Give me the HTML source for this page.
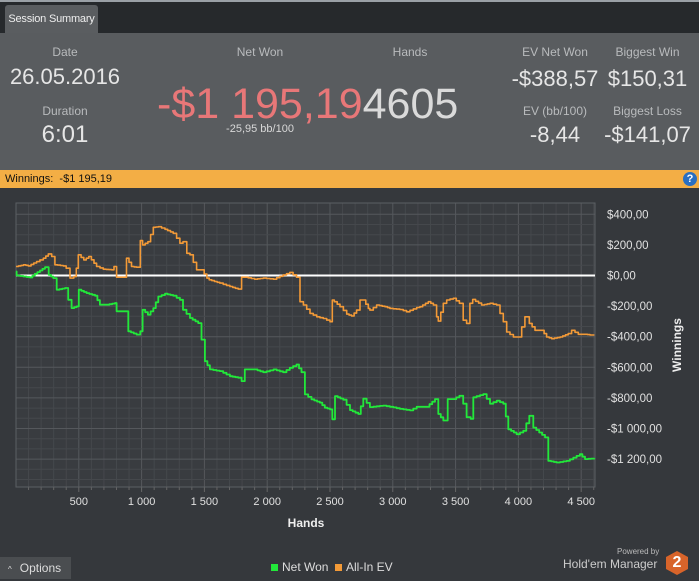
<!DOCTYPE html>
<html><head><meta charset="utf-8"><style>
body{margin:0;width:699px;height:580px;overflow:hidden;background:#35383c;font-family:"Liberation Sans",sans-serif;position:relative}
.abs{position:absolute}
.lbl{color:#b9bbbd;font-size:12px;text-align:center}
.val{color:#e6e6e6;font-size:22px;text-align:center}
</style></head><body>
<div class="abs" style="left:0;top:0;width:699px;height:33px;background:#26292c;border-top:2px solid #9aa0a6;box-sizing:border-box"></div>
<div class="abs" style="left:5px;top:5px;width:93px;height:28px;background:#5a5d60;border-radius:3px 3px 0 0;color:#eee;font-size:11px;line-height:28px;text-align:center;white-space:nowrap;letter-spacing:-0.2px">Session Summary</div>
<div class="abs" style="left:0;top:33px;width:699px;height:137px;background:#595c5f">
 <div class="abs lbl" style="left:20px;top:12px;width:90px">Date</div>
 <div class="abs val" style="left:0;top:31px;width:130px">26.05.2016</div>
 <div class="abs lbl" style="left:20px;top:71px;width:90px">Duration</div>
 <div class="abs val" style="left:20px;top:88px;width:90px;font-size:24px">6:01</div>
 <div class="abs lbl" style="left:215px;top:12px;width:90px">Net Won</div>
 <div class="abs" style="left:157px;top:46px;width:300px;font-size:43px;color:#e87778;line-height:50px;white-space:nowrap">-$1 195,19<span style="color:#dadada">4605</span></div>
 <div class="abs lbl" style="left:200px;top:90px;width:120px;font-size:11px;color:#d8d8d8">-25,95 bb/100</div>
 <div class="abs lbl" style="left:365px;top:12px;width:90px">Hands</div>
 <div class="abs lbl" style="left:510px;top:12px;width:90px">EV Net Won</div>
 <div class="abs val" style="left:505px;top:33px;width:100px">-$388,57</div>
 <div class="abs lbl" style="left:600px;top:12px;width:95px">Biggest Win</div>
 <div class="abs val" style="left:600px;top:33px;width:95px">$150,31</div>
 <div class="abs lbl" style="left:510px;top:71px;width:90px">EV (bb/100)</div>
 <div class="abs val" style="left:510px;top:89px;width:90px">-8,44</div>
 <div class="abs lbl" style="left:600px;top:71px;width:95px">Biggest Loss</div>
 <div class="abs val" style="left:600px;top:89px;width:95px">-$141,07</div>
</div>
<div class="abs" style="left:0;top:170px;width:699px;height:18px;background:#f3ae45;font-size:11px;line-height:18px;color:#111;padding-left:5px;box-sizing:border-box">Winnings: &nbsp;-$1 195,19</div>
<div class="abs" style="left:683px;top:172px;width:14px;height:14px;border-radius:7px;background:#2a6fc0;color:#fff;font-size:11px;font-weight:bold;text-align:center;line-height:14px">?</div>
<svg class="abs" style="left:0;top:0" width="699" height="580" id="chart"></svg>
<div class="abs" style="left:0;top:557px;width:71px;height:22px;background:#4a4d50;color:#ddd;font-size:12px;line-height:22px"><span style="font-size:8px;margin:0 8px 0 8px">^</span>Options</div>
<div class="abs" style="left:271px;top:560px;font-size:12px;color:#ddd"><span style="display:inline-block;width:7px;height:7px;background:#22e83a;margin-right:4px"></span>Net Won</div>
<div class="abs" style="left:335px;top:560px;font-size:12px;color:#ddd"><span style="display:inline-block;width:7px;height:7px;background:#f39a37;margin-right:4px"></span>All-In EV</div>
<div class="abs" style="left:617px;top:547px;font-size:8px;color:#bbb">Powered by</div>
<div class="abs" style="left:563px;top:557px;font-size:12px;color:#ccc">Hold'em Manager</div>
<div class="abs" style="left:666px;top:551px;width:22px;height:24px;background:#d8642a;clip-path:polygon(50% 0,100% 25%,100% 75%,50% 100%,0 75%,0 25%);color:#fff;font-weight:bold;font-size:16px;text-align:center;line-height:24px">2</div>
<script>
const hands=[0,5,111,150,191,231,260,297,324,390,416,443,483,500,562,629,668,721,788,801,867,894,960,990,1008,1050,1093,1133,1186,1252,1305,1330,1385,1451,1477,1504,1544,1623,1703,1769,1796,1822,1900,1968,2050,2127,2180,2233,2273,2300,2353,2419,2459,2500,2518,2540,2606,2659,2725,2765,2818,2924,3004,3057,3137,3190,3270,3336,3362,3402,3437,3482,3530,3561,3588,3620,3641,3721,3774,3827,3880,3920,3986,4039,4087,4119,4212,4238,4305,4384,4490,4530,4605];
const netWon=[26,0,-13,11,33,54,4,-17,-93,-82,-159,-213,-202,-93,-115,-132,-191,-191,-180,-234,-234,-365,-386,-365,-224,-256,-213,-137,-119,-132,-159,-224,-278,-311,-419,-560,-614,-625,-658,-668,-690,-614,-614,-632,-614,-632,-603,-582,-632,-777,-810,-831,-864,-875,-940,-788,-812,-880,-905,-805,-860,-850,-862,-872,-882,-858,-858,-808,-905,-948,-808,-808,-786,-838,-926,-937,-796,-775,-838,-818,-838,-1005,-1037,-1015,-917,-994,-1058,-1212,-1222,-1212,-1168,-1200,-1195];
const evHands=[0,60,98,164,217,257,284,310,377,400,430,460,480,496,540,580,642,695,761,780,801,867,880,920,960,990,1008,1050,1093,1133,1186,1252,1305,1330,1360,1385,1438,1477,1520,1538,1623,1703,1769,1796,1822,1900,1968,2050,2127,2180,2233,2261,2288,2341,2394,2447,2500,2518,2534,2580,2633,2672,2712,2739,2765,2805,2818,2871,2938,2977,3057,3110,3190,3216,3283,3323,3349,3362,3402,3429,3482,3530,3561,3588,3614,3636,3707,3774,3827,3880,3907,3960,4000,4052,4087,4132,4185,4225,4265,4331,4397,4424,4477,4530,4570,4605];
const allInEV=[59,70,63,91,113,141,124,70,63,48,-17,-7,48,135,102,124,59,41,37,59,-11,-11,113,59,54,228,200,221,315,319,302,276,211,221,145,135,37,37,-17,-28,-50,-72,-89,-11,-11,-24,-17,-24,4,20,-11,-171,-193,-248,-270,-281,-302,-160,-171,-204,-252,-265,-226,-160,-160,-215,-226,-193,-204,-215,-222,-237,-209,-204,-171,-193,-270,-298,-182,-160,-149,-182,-292,-313,-182,-156,-193,-182,-193,-302,-369,-402,-402,-270,-313,-358,-358,-402,-413,-402,-380,-358,-384,-384,-389];
const yTicks=[400,200,0,-200,-400,-600,-800,-1000,-1200];
const yTickLabels=["$400,00","$200,00","$0,00","-$200,00","-$400,00","-$600,00","-$800,00","-$1 000,00","-$1 200,00"];
const xTicks=[500,1000,1500,2000,2500,3000,3500,4000,4500];
const xTickLabels=["500","1 000","1 500","2 000","2 500","3 000","3 500","4 000","4 500"];
const svg=document.getElementById('chart');
const NS='http://www.w3.org/2000/svg';
const L=16,R=595,T=203,B=487;
const X=h=>L+h*(R-L)/4610;
const Y=v=>275.5-v*30.6/200;
function mk(tag,attrs){const e=document.createElementNS(NS,tag);for(const k in attrs)e.setAttribute(k,attrs[k]);svg.appendChild(e);return e;}
let bg=mk('rect',{x:L,y:T,width:R-L,height:B-T,fill:'#393c40'});


for(let h=100;h<4610;h+=100){const l=mk('line',{x1:X(h),x2:X(h),y1:T,y2:B,stroke:h%500?'#45484c':'#55585c','stroke-width':1});


mk('line',{x1:X(h),x2:X(h),y1:B,y2:B+(h%500?3:5),stroke:'#666'});}
for(let v=-1400;v<=466;v+=200/3){if(Y(v)<T||Y(v)>B)continue;const major=Math.abs(Math.round(v)%200)<1;const l=mk('line',{x1:L,x2:R,y1:Y(v),y2:Y(v),stroke:major?'#55585c':'#45484c'});

}
mk('rect',{x:L,y:T,width:R-L,height:B-T,fill:'none',stroke:'#5c5f63'});
yTicks.forEach((v,i)=>{const t=mk('text',{x:R+12,y:Y(v)+4,fill:'#e0e0e0','font-size':11.5,'font-family':'Liberation Sans'});t.textContent=yTickLabels[i];

});
xTicks.forEach((h,i)=>{const t=mk('text',{x:X(h),y:B+18,fill:'#e0e0e0','font-size':11,'text-anchor':'middle','font-family':'Liberation Sans'});t.textContent=xTickLabels[i];

});
const xt=mk('text',{x:306,y:527,fill:'#eee','font-size':12,'font-weight':'bold','text-anchor':'middle','font-family':'Liberation Sans'});xt.textContent='Hands';


const yt=mk('text',{x:681,y:345,fill:'#eee','font-size':12,'font-weight':'bold','text-anchor':'middle','font-family':'Liberation Sans',transform:'rotate(-90 681 345)'});yt.textContent='Winnings';


const zl=mk('line',{x1:L,x2:R,y1:Y(0),y2:Y(0),stroke:'#fff','stroke-width':2});


function step(hs,vs){let d='M'+X(hs[0]).toFixed(1)+','+Y(vs[0]).toFixed(1);for(let i=1;i<hs.length;i++){const x0=X(hs[i-1]),x1=X(hs[i]),y0=Y(vs[i-1]),y1=Y(vs[i]);const n=Math.max(1,Math.round((x1-x0)/3));for(let k=1;k<=n;k++){const xx=x0+(x1-x0)*k/n,yy=y0+(y1-y0)*k/n;d+='H'+xx.toFixed(1)+'V'+yy.toFixed(1);}}return d;}
const ev=mk('path',{d:step(evHands,allInEV),fill:'none',stroke:'#f39a37','stroke-width':1.6,'stroke-linejoin':'round'});


const nw=mk('path',{d:step(hands,netWon),fill:'none',stroke:'#22e83a','stroke-width':1.8,'stroke-linejoin':'round'});


</script>
</body></html>
